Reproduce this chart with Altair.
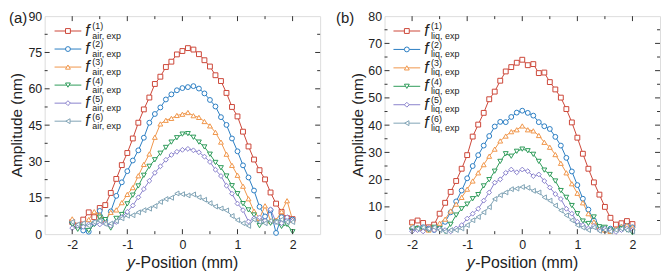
import altair as alt
import pandas as pd

# ---------------- data ----------------
X = [-2.0, -1.9, -1.8, -1.7, -1.6, -1.5, -1.4, -1.3, -1.2, -1.1, -1.0,
     -0.9, -0.8, -0.7, -0.6, -0.5, -0.4, -0.3, -0.2, -0.1, 0.0,
     0.1, 0.2, 0.3, 0.4, 0.5, 0.6, 0.7, 0.8, 0.9, 1.0,
     1.1, 1.2, 1.3, 1.4, 1.5, 1.6, 1.7, 1.8, 1.9, 2.0]

AIR1 = [5.0, 3.5, 6.0, 9.0, 7.0, 10.8, 12.0, 17.0, 22.8, 28.5, 33.5,
        39.5, 46.0, 51.5, 56.4, 62.0, 65.0, 69.0, 71.2, 74.2, 75.6,
        76.8, 76.2, 74.3, 71.8, 69.2, 65.6, 63.2, 58.3, 52.5, 48.6,
        42.3, 36.2, 30.8, 26.4, 22.6, 17.2, 12.6, 9.2, 6.6, 6.2]
AIR2 = [5.0, 3.0, 1.5, 1.0, 4.5, 9.6, 5.5, 9.4, 15.8, 21.4, 26.0,
        30.4, 34.6, 39.8, 46.0, 49.6, 52.3, 55.6, 57.7, 59.4, 60.3,
        60.7, 61.1, 60.1, 58.1, 55.4, 52.7, 48.3, 45.1, 39.5, 34.2,
        28.4, 23.4, 18.0, 11.3, 7.3, 9.9, 0.5, 7.0, 5.5, 6.0]
AIR3 = [6.3, 3.5, 4.0, 6.0, 9.3, 8.0, 5.5, 9.0, 10.0, 13.0, 16.4,
        19.2, 24.1, 28.8, 33.1, 40.0, 45.5, 47.0, 47.8, 49.0, 49.5,
        50.2, 48.9, 48.2, 46.5, 44.7, 42.0, 38.0, 33.0, 28.4, 24.3,
        19.8, 14.6, 9.5, 6.5, 11.7, 5.5, 5.8, 9.3, 13.8, 5.8]
AIR4 = [4.0, 2.0, 3.0, 1.5, 4.0, 7.0, 6.0, 2.5, 6.5, 8.1, 12.5,
        16.1, 19.9, 24.3, 28.0, 30.7, 33.4, 35.8, 38.0, 39.8, 41.3,
        41.5, 40.0, 38.0, 36.0, 33.0, 29.6, 27.4, 24.0, 20.0, 16.7,
        12.6, 10.0, 7.9, 3.5, 5.0, 4.5, 5.0, 3.2, 4.0, 1.0]
AIR5 = [2.5, 3.5, 3.0, 4.0, 4.5, 4.0, 4.5, 3.5, 5.0, 7.0, 9.2,
        11.8, 15.2, 18.6, 22.0, 25.3, 28.0, 30.7, 32.7, 34.0, 34.8,
        35.2, 34.6, 33.8, 32.0, 29.8, 26.6, 24.0, 20.0, 16.7, 12.6,
        9.9, 5.2, 6.5, 6.9, 5.5, 10.2, 5.0, 4.5, 7.0, 5.5]
AIR6 = [5.0, 4.0, 4.5, 3.5, 5.0, 5.5, 4.2, 4.4, 5.4, 6.5, 7.6,
        7.8, 9.0, 9.9, 10.5, 11.6, 13.3, 14.5, 15.0, 16.8, 16.5,
        16.0, 16.4, 15.2, 14.2, 12.8, 11.4, 10.6, 9.8, 7.5, 5.8,
        4.5, 3.4, 6.0, 5.0, 4.5, 5.5, 5.0, 6.0, 5.0, 5.0]

LIQ1 = [4.3, 5.0, 4.1, 2.5, 3.5, 7.5, 11.5, 15.5, 19.5, 24.0, 29.0,
        35.8, 40.2, 44.5, 49.5, 52.3, 56.3, 59.7, 61.3, 62.9, 64.0,
        62.0, 62.4, 59.1, 59.3, 55.8, 53.1, 50.1, 45.9, 41.0, 35.4,
        29.5, 24.0, 19.0, 14.5, 10.0, 6.0, 3.5, 4.0, 4.8, 3.7]
LIQ2 = [2.0, 2.2, 2.5, 2.0, 1.5, 3.0, 4.5, 8.0, 12.0, 16.0, 20.5,
        25.0, 29.0, 32.5, 36.0, 39.5, 41.2, 41.1, 43.0, 44.6, 45.3,
        44.5, 43.5, 41.1, 39.6, 38.6, 35.7, 32.5, 28.0, 23.0, 18.0,
        13.0, 9.0, 5.0, 2.5, 1.5, 2.0, 1.5, 2.5, 3.0, 2.5]
LIQ3 = [3.0, 2.5, 2.0, 1.5, 2.0, 4.0, 5.5, 8.5, 11.0, 13.5, 16.5,
        19.5, 22.5, 25.5, 28.6, 31.2, 34.2, 36.0, 37.6, 38.3, 39.7,
        38.3, 37.9, 36.2, 33.7, 31.9, 29.2, 26.0, 22.5, 18.5, 15.0,
        11.5, 7.5, 4.5, 2.5, 1.5, 1.0, 2.0, 2.8, 3.2, 2.5]
LIQ4 = [1.5, 2.0, 1.8, 1.5, 2.5, 2.0, 1.0, 3.6, 7.0, 9.3, 11.0,
        13.0, 14.5, 17.7, 20.0, 23.1, 26.7, 29.5, 28.6, 30.4, 31.2,
        30.6, 29.3, 26.7, 23.5, 21.9, 19.5, 16.0, 13.5, 10.5, 7.5,
        4.8, 3.9, 6.3, 2.7, 2.5, 1.5, 1.0, 2.0, 1.5, 0.5]
LIQ5 = [1.0, 1.5, 1.0, 2.0, 1.5, 2.0, 1.5, 1.0, 2.1, 3.3, 5.7,
        7.5, 9.3, 12.3, 15.3, 18.9, 20.1, 22.5, 23.7, 22.7, 23.7,
        23.1, 21.3, 21.9, 19.5, 17.1, 14.7, 12.9, 9.3, 7.5, 4.5,
        3.3, 2.1, 3.0, 1.5, 2.0, 1.5, 0.8, 1.5, 2.0, 1.5]
LIQ6 = [2.5, 2.0, 2.5, 2.0, 2.5, 1.5, 1.0, 1.5, 1.5, 2.1, 3.3,
        5.1, 6.3, 8.0, 9.9, 12.9, 14.3, 15.3, 16.5, 16.7, 17.3,
        17.0, 15.9, 15.3, 13.5, 12.3, 10.5, 8.7, 6.9, 5.1, 3.3,
        2.4, 1.5, 2.5, 1.2, 1.5, 1.0, 1.5, 2.0, 1.5, 1.0]

SERIES = ["1", "2", "3", "4", "5", "6"]
COLORS = ["#cc4638", "#2a7dc2", "#f0964a", "#2e9b59", "#8a82cc", "#7fa3b5"]
SHAPES = ["square", "circle", "triangle-up", "triangle-down", "diamond", "triangle-left"]

X_LABELS = [-2, -1, 0, 1, 2]
X_MINOR = [-1.5, -0.5, 0.5, 1.5]

FONT = "Liberation Sans"
FRAME = "#333333"
TEXT = "#222222"
W, H = 278, 220


def panel(series, medium, ymax, ystep, tag, leg_x0, leg_y0, leg_dy, tag_dx, ytitle_dx):
    rows = []
    for s, vals in zip(SERIES, series):
        for xv, yv in zip(X, vals):
            rows.append({"x": xv, "y": yv, "s": s})
    df = pd.DataFrame(rows)

    xscale = alt.Scale(domain=[-2.5, 2.5], nice=False, zero=False)
    yscale = alt.Scale(domain=[0, ymax], nice=False, zero=False)
    cscale = alt.Scale(domain=SERIES, range=COLORS)
    sscale = alt.Scale(domain=SERIES, range=SHAPES)

    y_major = [ystep * i for i in range(int(round(ymax / ystep)) + 1)]
    y_minor = [ystep * (i + 0.5) for i in range(int(round(ymax / ystep)))]

    xaxis = alt.Axis(values=X_LABELS, title=None, grid=False, domain=False, ticks=False,
                     tickSize=0, labelPadding=4, labelFont=FONT, labelFontSize=12.5,
                     labelColor=TEXT, labelExpr="replace(datum.label, '\u2212', '-')")
    yaxis = alt.Axis(values=y_major, title=None, grid=False, domain=False, ticks=False,
                     tickSize=0, labelPadding=3, labelFont=FONT, labelFontSize=12.5,
                     labelColor=TEXT)

    def X_(f):
        return alt.X(f, scale=xscale, axis=xaxis)

    def Y_(f):
        return alt.Y(f, scale=yscale, axis=yaxis)

    base = alt.Chart(df)
    lines = base.mark_line(strokeWidth=1, clip=True).encode(
        x=X_("x:Q"), y=Y_("y:Q"),
        color=alt.Color("s:N", scale=cscale, legend=None),
        detail="s:N",
    )
    points = base.mark_point(filled=False, fill="white", fillOpacity=1, opacity=1,
                             strokeWidth=1, size=24).encode(
        x=X_("x:Q"), y=Y_("y:Q"),
        color=alt.Color("s:N", scale=cscale, legend=None),
        shape=alt.Shape("s:N", scale=sscale, legend=None),
    )

    layers = [lines, points]

    # inward ticks (Origin style)
    def xticks(vals, L):
        d = pd.DataFrame({"v": vals})
        return [
            alt.Chart(d).mark_rule(color=FRAME, strokeWidth=1).encode(
                x=X_("v:Q"), y=alt.value(H), y2=alt.value(H - L)),
            alt.Chart(d).mark_rule(color=FRAME, strokeWidth=1).encode(
                x=X_("v:Q"), y=alt.value(0), y2=alt.value(L)),
        ]

    def yticks(vals, L):
        d = pd.DataFrame({"v": vals})
        return [
            alt.Chart(d).mark_rule(color=FRAME, strokeWidth=1).encode(
                y=Y_("v:Q"), x=alt.value(0), x2=alt.value(L)),
            alt.Chart(d).mark_rule(color=FRAME, strokeWidth=1).encode(
                y=Y_("v:Q"), x=alt.value(W), x2=alt.value(W - L)),
        ]

    layers += xticks(X_LABELS, 5) + xticks(X_MINOR, 3)
    layers += yticks(y_major[1:-1], 5) + yticks(y_minor, 3)

    # custom legend (positions in pixels converted to data units)
    def dx(px):
        return -2.5 + 5.0 * px / W

    def dy(py):
        return ymax * (1 - py / H)

    leg = pd.DataFrame({
        "s": SERIES,
        "x1": [dx(leg_x0)] * 6,
        "x2": [dx(leg_x0 + 27)] * 6,
        "xm": [dx(leg_x0 + 13.5)] * 6,
        "xf": [dx(leg_x0 + 31)] * 6,
        "xs": [dx(leg_x0 + 38)] * 6,
        "y": [dy(leg_y0 + i * leg_dy) for i in range(6)],
        "ysup": [dy(leg_y0 + i * leg_dy - 4.6) for i in range(6)],
        "ysub": [dy(leg_y0 + i * leg_dy + 4.6) for i in range(6)],
        "sup": ["(%s)" % s for s in SERIES],
        "sub": ["%s, exp" % medium] * 6,
        "f": ["f"] * 6,
    })
    lb = alt.Chart(leg)
    layers += [
        lb.mark_rule(strokeWidth=1).encode(
            x=X_("x1:Q"), x2="x2:Q", y=Y_("y:Q"),
            color=alt.Color("s:N", scale=cscale, legend=None)),
        lb.mark_point(filled=False, fill="white", fillOpacity=1, opacity=1,
                      strokeWidth=1, size=24).encode(
            x=X_("xm:Q"), y=Y_("y:Q"),
            color=alt.Color("s:N", scale=cscale, legend=None),
            shape=alt.Shape("s:N", scale=sscale, legend=None)),
        lb.mark_text(font=FONT, fontSize=16, fontStyle="italic", align="left",
                     baseline="middle", color=TEXT).encode(
            x=X_("xf:Q"), y=Y_("y:Q"), text="f:N"),
        lb.mark_text(font=FONT, fontSize=9, align="left", baseline="middle",
                     color=TEXT).encode(x=X_("xs:Q"), y=Y_("ysup:Q"), text="sup:N"),
        lb.mark_text(font=FONT, fontSize=9, align="left", baseline="middle",
                     color=TEXT).encode(x=X_("xs:Q"), y=Y_("ysub:Q"), text="sub:N"),
    ]

    # panel tag, axis titles
    one = pd.DataFrame({"t": [0]})
    layers += [
        alt.Chart(one).mark_text(text=tag, font=FONT, fontSize=15, align="left",
                                 baseline="middle", color=TEXT).encode(
            x=alt.value(tag_dx), y=alt.value(2)),
        alt.Chart(one).mark_text(text="Amplitude (nm)", font=FONT, fontSize=15.5, angle=270,
                                 align="center", baseline="middle", color=TEXT).encode(
            x=alt.value(ytitle_dx), y=alt.value(H / 2)),
        alt.Chart(one).mark_text(text="y", font=FONT, fontSize=16, fontStyle="italic",
                                 align="right", baseline="middle", color=TEXT).encode(
            x=alt.value(W / 2 - 48), y=alt.value(H + 29)),
        alt.Chart(one).mark_text(text="-Position (mm)", font=FONT, fontSize=16,
                                 align="left", baseline="middle", color=TEXT).encode(
            x=alt.value(W / 2 - 47.5), y=alt.value(H + 29)),
    ]

    return alt.layer(*layers).properties(width=W, height=H)


left = panel([AIR1, AIR2, AIR3, AIR4, AIR5, AIR6], "air", 90, 15, "(a)",
             leg_x0=10, leg_y0=15, leg_dy=18.2, tag_dx=-36, ytitle_dx=-28)
right = panel([LIQ1, LIQ2, LIQ3, LIQ4, LIQ5, LIQ6], "liq", 80, 10, "(b)",
              leg_x0=9, leg_y0=15, leg_dy=18.6, tag_dx=-49, ytitle_dx=-27)

chart = alt.hconcat(left, right, spacing=14).properties(padding=0).configure_view(
    stroke=FRAME, strokeWidth=1.2
).configure(background="white")

chart.save("out.html", embed_options={"renderer": "svg", "actions": False})
